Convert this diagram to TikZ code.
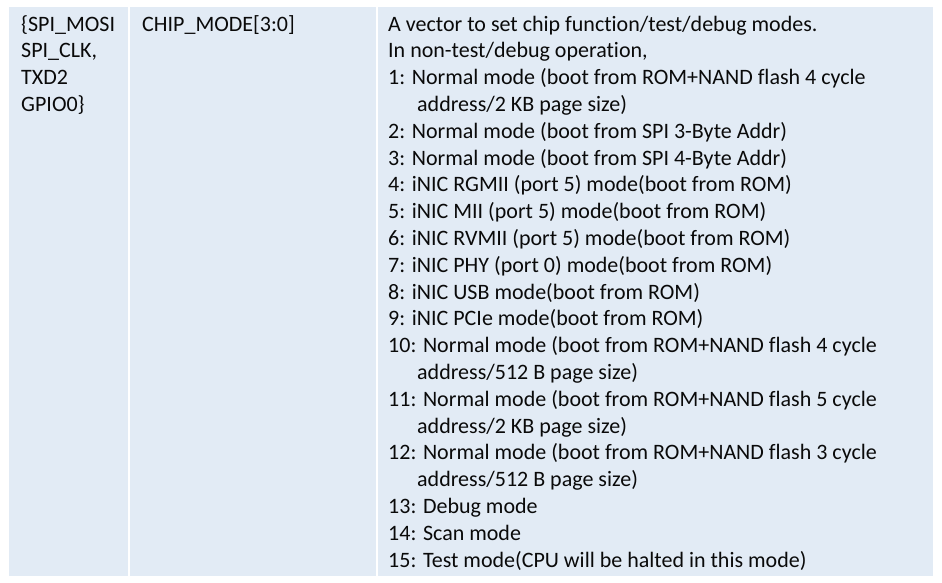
\documentclass[tikz,border=0pt]{standalone}
\usepackage{fontspec}
\setmainfont{Carlito}[Ligatures=NoCommon]
\definecolor{cellbg}{HTML}{E2EBF5}
\definecolor{txt}{HTML}{0A0A0A}
\begin{document}
\begin{tikzpicture}[x=1pt,y=-1pt,
  celltext/.style={anchor=base west,inner sep=0pt,text=txt,font=\fontsize{22}{26}\selectfont},
  cell/.style={fill=cellbg,draw=none}]
\useasboundingbox (0,0) rectangle (942,582);
\fill[white] (0,0) rectangle (942,582);
\path[cell] (9,7) rectangle (127.5,576);
\path[cell] (129.5,7) rectangle (376,576);
\path[cell] (378,7) rectangle (933,576);
\node[celltext] (c1a) at (21,31) {\{SPI\_MOSI};
\node[celltext] (c1b) at (21,57.8) {SPI\_CLK,};
\node[celltext] (c1c) at (21,84.6) {TXD2};
\node[celltext] (c1d) at (21,111.4) {GPIO0\}};
\node[celltext] (c2a) at (142,31) {CHIP\_MODE[3:0]};
\foreach \t [count=\i from 0] in {
  {A vector to set chip function/test/debug modes.},
  {In non-test/debug operation,},
  {1: Normal mode (boot from ROM+NAND flash 4 cycle},
  {\hspace*{29pt}address/2 KB page size)},
  {2: Normal mode (boot from SPI 3-Byte Addr)},
  {3: Normal mode (boot from SPI 4-Byte Addr)},
  {4: iNIC RGMII (port 5) mode(boot from ROM)},
  {5: iNIC MII (port 5) mode(boot from ROM)},
  {6: iNIC RVMII (port 5) mode(boot from ROM)},
  {7: iNIC PHY (port 0) mode(boot from ROM)},
  {8: iNIC USB mode(boot from ROM)},
  {9: iNIC PCIe mode(boot from ROM)},
  {10: Normal mode (boot from ROM+NAND flash 4 cycle},
  {\hspace*{29pt}address/512 B page size)},
  {11: Normal mode (boot from ROM+NAND flash 5 cycle},
  {\hspace*{29pt}address/2 KB page size)},
  {12: Normal mode (boot from ROM+NAND flash 3 cycle},
  {\hspace*{29pt}address/512 B page size)},
  {13: Debug mode},
  {14: Scan mode},
  {15: Test mode(CPU will be halted in this mode)}}
  \node[celltext] (l\i) at (388,31+26.8*\i) {\t};
\end{tikzpicture}
\end{document}
